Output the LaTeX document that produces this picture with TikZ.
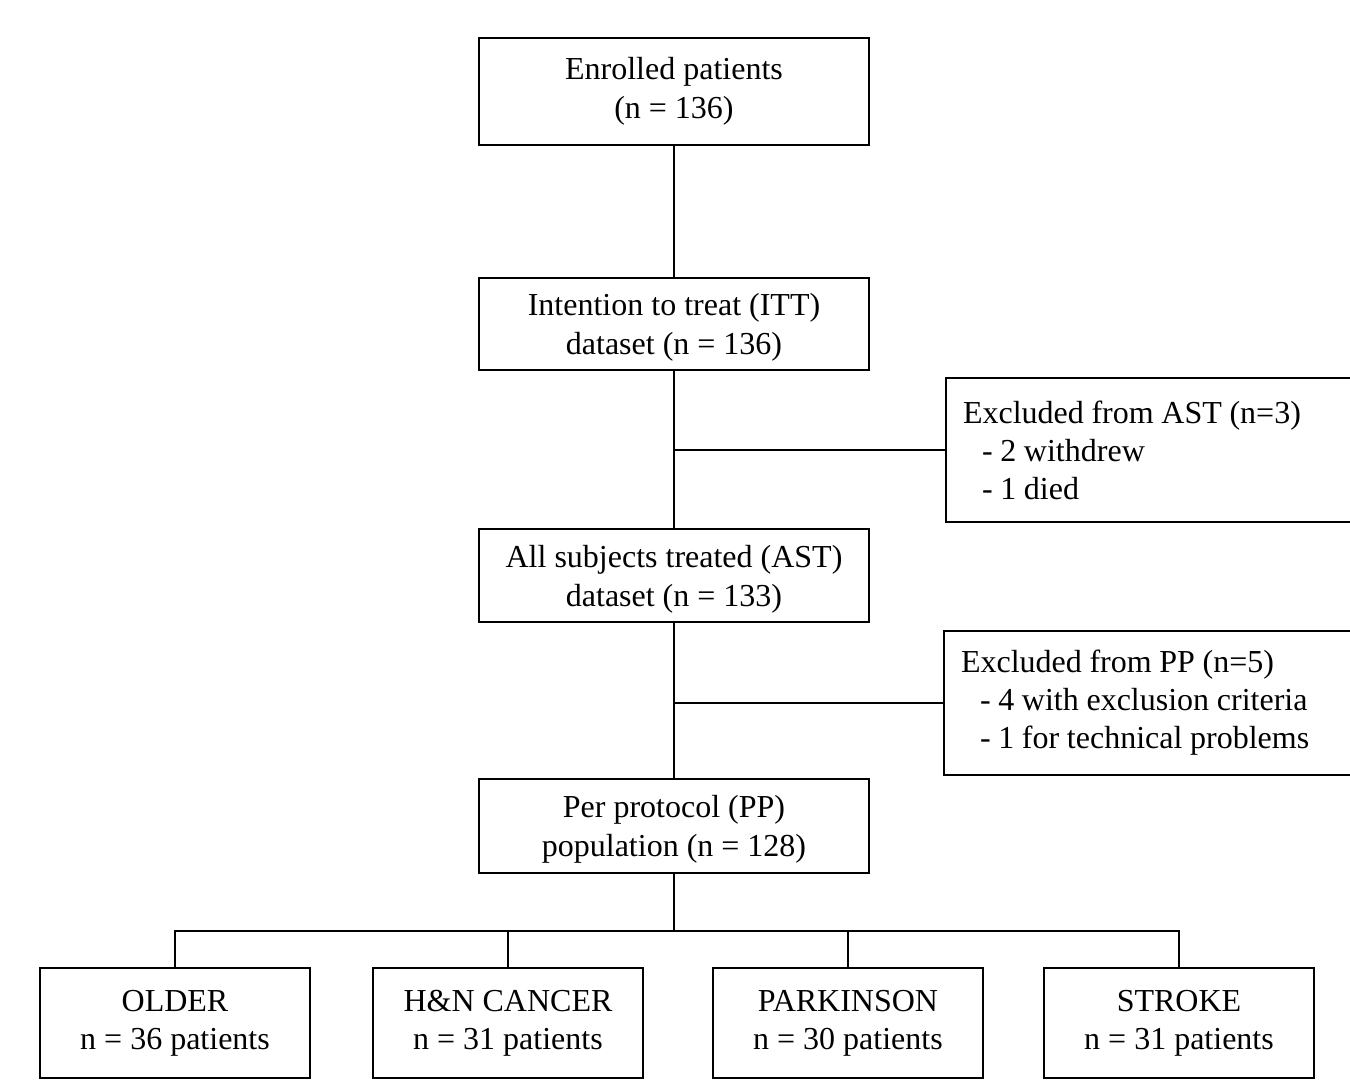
\documentclass[tikz,border=0pt]{standalone}
\usepackage{fontspec}
\setmainfont{Liberation Serif}
\usepackage{tikz}

\begin{document}
\begin{tikzpicture}[x=0.5pt,y=-0.5pt,line width=1pt,
    mainbox/.style={draw,align=center,minimum width=195pt,inner sep=0pt,
      font=\fontsize{16}{19.5}\selectfont},
    exbox/.style={draw,align=left,text width=210pt,inner xsep=8.5pt,
      minimum height=72pt,font=\fontsize{16}{19}\selectfont,
      execute at begin node={\spaceskip=0.24em\relax}},
    groupbox/.style={draw,align=center,minimum width=135pt,minimum height=55pt,
      inner sep=0pt,font=\fontsize{16}{19}\selectfont}]
      \useasboundingbox (0,0) rectangle (1350,1087);
      \clip (0,0) rectangle (1350,1087);
      % main column
      \node[mainbox,minimum height=53.5pt] (enrolled) at (674,91.5) {Enrolled patients\\(n = 136)};
      \node[mainbox,minimum height=46pt,text depth=-5pt] (itt) at (674,324) {Intention to treat (ITT)\\dataset (n = 136)};
      \node[mainbox,minimum height=46.5pt,text depth=-5pt] (ast) at (674,575.5) {All subjects treated (AST)\\dataset (n = 133)};
      \node[mainbox,minimum height=47pt,text depth=-5pt] (pp) at (674,826) {Per protocol (PP)\\population (n = 128)};
      % exclusions
      \node[exbox] (exast) at (1173,450) {Excluded from AST (n=3)\\\hspace*{9.5pt}- 2 withdrew\\\hspace*{9.5pt}- 1 died};
      \node[exbox] (expp) at (1171,703) {Excluded from PP (n=5)\\\hspace*{9.5pt}- 4 with exclusion criteria\\\hspace*{9.5pt}- 1 for technical problems};
      % groups
      \node[groupbox] (older) at (175,1023) {OLDER\\n = 36 patients};
      \node[groupbox] (hnc) at (508,1023) {H\&N CANCER\\n = 31 patients};
      \node[groupbox] (park) at (848,1023) {PARKINSON\\n = 30 patients};
      \node[groupbox] (stroke) at (1179,1023) {STROKE\\n = 31 patients};
      \coordinate (bus) at (674,931);
      \draw (enrolled) -- (itt);
      \draw (itt) -- (ast);
      \draw (ast) -- (pp);
      \draw (exast.west) -- (exast.west -| itt);
      \draw (expp.west) -- (expp.west -| ast);
      \draw (pp) -- (bus);
      \draw (older.north) -- (older.north |- bus) -- (stroke.north |- bus) -- (stroke.north);
      \draw (hnc.north) -- (hnc.north |- bus);
      \draw (park.north) -- (park.north |- bus);
    \end{tikzpicture}
\end{document}
